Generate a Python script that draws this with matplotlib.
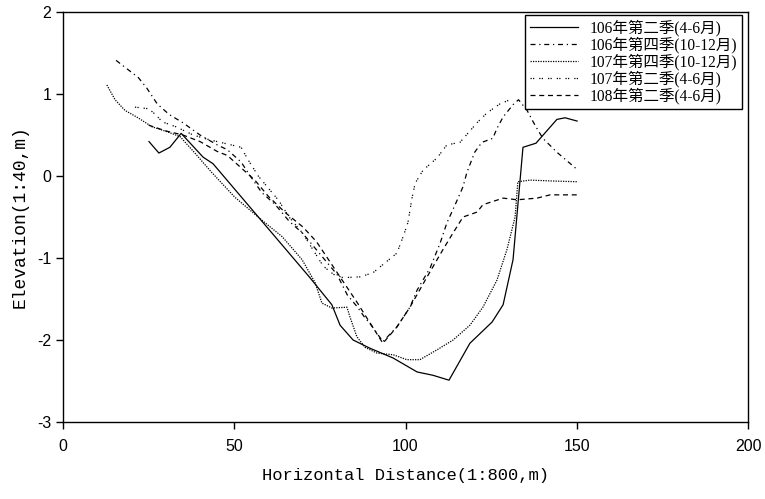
import numpy as np
import matplotlib
matplotlib.use("Agg")
from matplotlib import pyplot as plt

plt.rcParams["font.family"] = ["Liberation Sans", "DejaVu Sans"]
plt.rcParams["axes.unicode_minus"] = False

# series (x = horizontal distance, y = elevation)
labels = ["106年第二季(4-6月)", "106年第四季(10-12月)", "107年第四季(10-12月)",
          "107年第二季(4-6月)", "108年第二季(4-6月)"]

x_106q2 = [25.1, 28.0, 31.2, 34.5, 40.9, 43.8, 72.1, 78.5, 80.9, 84.7, 89.6, 96.4,
           103.4, 108.0, 112.7, 118.8, 125.3, 128.5, 131.4, 134.3, 138.1, 144.2, 146.6, 150.1]
y_106q2 = [0.42, 0.28, 0.35, 0.52, 0.23, 0.15, -1.24, -1.57, -1.82, -2.0, -2.10, -2.22,
           -2.39, -2.43, -2.49, -2.04, -1.78, -1.57, -1.02, 0.35, 0.40, 0.69, 0.71, 0.67]

x_106q4 = [15.5, 22.0, 24.5, 27.5, 31.0, 35.0, 40.0, 45.0, 48.0, 52.0, 55.0, 58.0, 62.0,
           66.0, 70.0, 73.0, 76.0, 80.0, 83.0, 86.0, 88.0, 90.0, 93.4, 97.5, 101.3, 103.4,
           107.2, 110.1, 112.1, 114.5, 116.8, 117.9, 120.2, 122.3, 125.5, 126.7, 128.5,
           131.4, 133.0, 135.5, 137.8, 140.1, 144.2, 150.1]
y_106q4 = [1.41, 1.20, 1.07, 0.88, 0.75, 0.65, 0.50, 0.38, 0.32, 0.17, -0.02, -0.20, -0.35,
           -0.55, -0.70, -0.85, -1.00, -1.20, -1.45, -1.60, -1.72, -1.82, -2.02, -1.84, -1.60,
           -1.39, -1.12, -0.82, -0.57, -0.35, -0.13, 0.04, 0.29, 0.41, 0.46, 0.58, 0.72,
           0.87, 0.93, 0.80, 0.62, 0.46, 0.29, 0.08]

x_107q4 = [12.8, 15.2, 18.1, 21.9, 26.0, 30.4, 34.2, 38.5, 43.5, 50.2, 58.1, 64.0, 69.8,
           73.6, 75.6, 78.5, 82.9, 83.8, 85.8, 88.2, 91.7, 96.4, 100.4, 104.2, 109.2, 113.9,
           118.8, 122.6, 126.7, 129.6, 132.0, 132.8, 136.4, 142.2, 150.1]
y_107q4 = [1.11, 0.93, 0.80, 0.71, 0.60, 0.54, 0.48, 0.28, 0.04, -0.26, -0.54, -0.74, -1.02,
           -1.30, -1.55, -1.61, -1.60, -1.72, -1.96, -2.09, -2.16, -2.18, -2.24, -2.24, -2.12,
           -2.00, -1.82, -1.60, -1.27, -0.90, -0.50, -0.07, -0.05, -0.06, -0.07]

x_107q2 = [21.0, 25.0, 27.0, 29.0, 33.0, 38.0, 42.0, 47.0, 52.0, 54.0, 57.0, 60.0, 63.0,
           66.0, 70.0, 73.0, 76.0, 79.0, 81.8, 86.7, 90.5, 97.5, 99.3, 100.7, 101.9, 102.8,
           105.1, 109.2, 112.1, 115.9, 120.9, 123.8, 127.6, 131.1]
y_107q2 = [0.84, 0.82, 0.75, 0.66, 0.60, 0.50, 0.45, 0.40, 0.35, 0.20, 0.00, -0.15, -0.30,
           -0.50, -0.70, -0.90, -1.10, -1.20, -1.24, -1.23, -1.18, -0.94, -0.74, -0.57, -0.27,
           -0.09, 0.07, 0.22, 0.38, 0.41, 0.65, 0.77, 0.88, 0.94]

x_108q2 = [25.0, 30.0, 35.0, 40.0, 45.0, 48.0, 52.0, 56.0, 60.0, 65.0, 70.0, 74.0, 78.0,
           82.0, 86.0, 89.0, 93.4, 97.5, 101.3, 106.3, 110.9, 113.8, 116.8, 120.9, 122.6,
           128.5, 132.6, 138.4, 142.2, 150.1]
y_108q2 = [0.62, 0.55, 0.50, 0.42, 0.30, 0.25, 0.10, -0.05, -0.25, -0.45, -0.62, -0.80, -1.05,
           -1.30, -1.55, -1.75, -2.04, -1.84, -1.60, -1.23, -0.90, -0.70, -0.50, -0.44, -0.35,
           -0.27, -0.29, -0.27, -0.23, -0.23]

xticks = [0, 50, 100, 150, 200]
yticks = [-3, -2, -1, 0, 1, 2]

serif_cjk = ["Liberation Serif", "Noto Sans CJK TC", "DejaVu Sans"]
mono = ["Liberation Mono", "DejaVu Sans Mono"]

fig = plt.figure(figsize=(7.65, 4.99), dpi=100)
ax = fig.add_axes([63 / 765, 1 - 422 / 499, (748 - 63) / 765, (422 - 12) / 499])

series = [(x_106q2, y_106q2, "-"),
          (x_106q4, y_106q4, (0, (4, 3, 1, 3))),
          (x_107q4, y_107q4, (0, (1, 1))),
          (x_107q2, y_107q2, (0, (1, 1, 1, 4))),
          (x_108q2, y_108q2, (0, (4, 3)))]
for (xs, ys, ls), lab in zip(series, labels):
    ax.plot(xs, ys, color="black", lw=0.9, linestyle=ls, label=lab)

ax.set_xlim(0, 200)
ax.set_ylim(-3, 2)
ax.set_xticks(xticks)
ax.set_yticks(yticks)
for sp in ax.spines.values():
    sp.set_linewidth(1.0)
ax.tick_params(direction="out", length=5, width=1.0, labelsize=11.5)
ax.tick_params(axis="x", pad=7)

ax.set_xlabel("Horizontal Distance(1:800,m)", fontsize=12.3, family=mono, labelpad=10)
ax.set_ylabel("Elevation(1:40,m)", fontsize=13, family=mono, labelpad=6)

leg = ax.legend(loc="upper right", bbox_to_anchor=(0.991, 0.993), borderaxespad=0,
                fancybox=False, framealpha=1, edgecolor="black", handlelength=3.1,
                handletextpad=0.75, labelspacing=0.02, borderpad=0.3,
                prop={"family": serif_cjk, "size": 11.2})
leg.get_frame().set_linewidth(1.0)

fig.savefig("out.png", dpi=100)
